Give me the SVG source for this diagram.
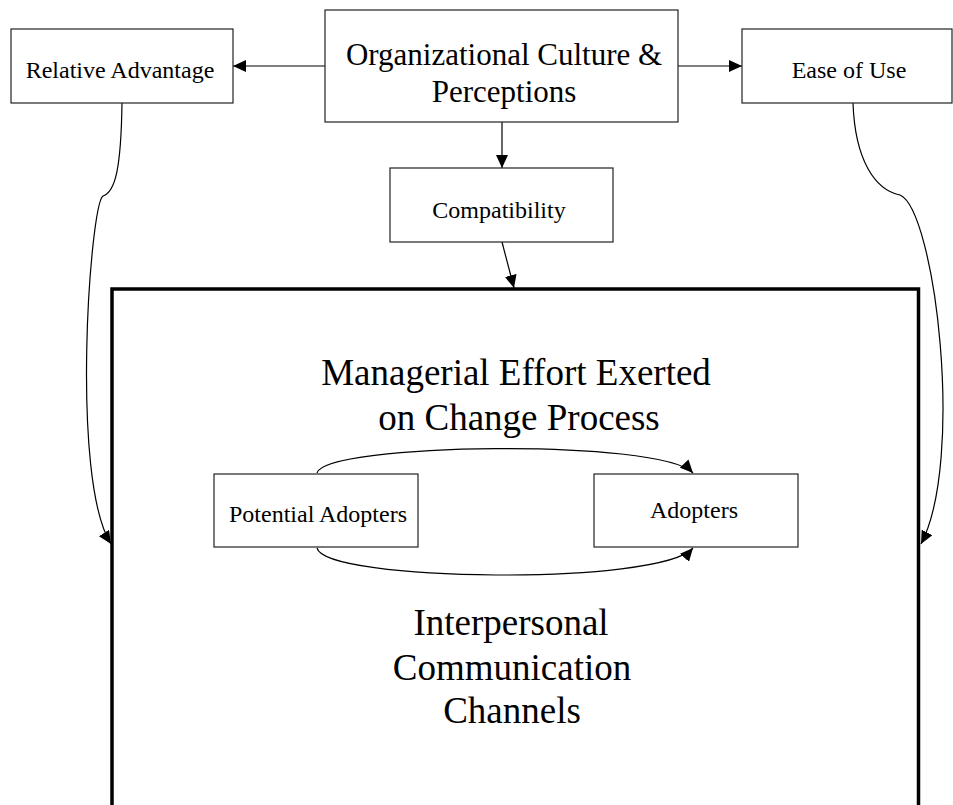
<svg xmlns="http://www.w3.org/2000/svg" width="953" height="805" viewBox="0 0 953 805">
<style>
.box{fill:#fff;stroke:#222;stroke-width:1.2}
.big{fill:none;stroke:#000;stroke-width:3.5}
.t{font-family:"Liberation Serif","Times New Roman",serif;fill:#000;text-anchor:middle}
.s{font-size:24px}
.m{font-size:31px}
.l{font-size:37px}
.c{fill:none;stroke:#000;stroke-width:1.2}
</style>
<defs>
<marker id="ah" markerUnits="userSpaceOnUse" markerWidth="14" markerHeight="12" refX="13" refY="6" orient="auto">
<path d="M0,0 L13,6 L0,12 Z" fill="#000"/>
</marker>
</defs>
<rect x="0" y="0" width="953" height="805" fill="#fff"/>
<g id="managerial-box">
<rect class="big" x="112" y="289" width="806.5" height="600"/>
<text class="t l" x="516" y="385">Managerial Effort Exerted</text>
<text class="t l" x="519" y="430">on Change Process</text>
<text class="t l" x="511" y="635">Interpersonal</text>
<text class="t l" x="512" y="680">Communication</text>
<text class="t l" x="512" y="723">Channels</text>
</g>
<g id="connectors">
<line class="c" x1="325" y1="66" x2="233" y2="66" marker-end="url(#ah)"/>
<line class="c" x1="678" y1="66" x2="742" y2="66" marker-end="url(#ah)"/>
<line class="c" x1="502" y1="122" x2="502" y2="168" marker-end="url(#ah)"/>
<line class="c" x1="502" y1="242" x2="514" y2="288" marker-end="url(#ah)"/>
<path class="c" d="M122,103 C121,170 115,192 103,196 C90,205 70,480 111,544" marker-end="url(#ah)"/>
<path class="c" d="M853,103 C855,160 875,190 900,195 C935,210 965,460 921,544" marker-end="url(#ah)"/>
<path class="c" d="M317,473 C325,443 660,438 693,473" marker-end="url(#ah)"/>
<path class="c" d="M317,548 C325,582 660,586 693,548" marker-end="url(#ah)"/>
</g>
<g id="relative-advantage">
<rect class="box" x="11" y="29" width="222" height="74"/>
<text class="t s" x="120" y="78">Relative Advantage</text>
</g>
<g id="org-culture">
<rect class="box" x="325" y="10" width="353" height="112"/>
<text class="t m" x="504" y="65">Organizational Culture &amp;</text>
<text class="t m" x="504" y="102">Perceptions</text>
</g>
<g id="ease-of-use">
<rect class="box" x="742" y="29" width="210" height="74"/>
<text class="t s" x="849" y="78">Ease of Use</text>
</g>
<g id="compatibility">
<rect class="box" x="390" y="168" width="223" height="74"/>
<text class="t s" x="499" y="218">Compatibility</text>
</g>
<g id="potential-adopters">
<rect class="box" x="214" y="474" width="204" height="73"/>
<text class="t s" x="318" y="522">Potential Adopters</text>
</g>
<g id="adopters">
<rect class="box" x="594" y="474" width="204" height="73"/>
<text class="t s" x="694" y="518">Adopters</text>
</g>
</svg>
